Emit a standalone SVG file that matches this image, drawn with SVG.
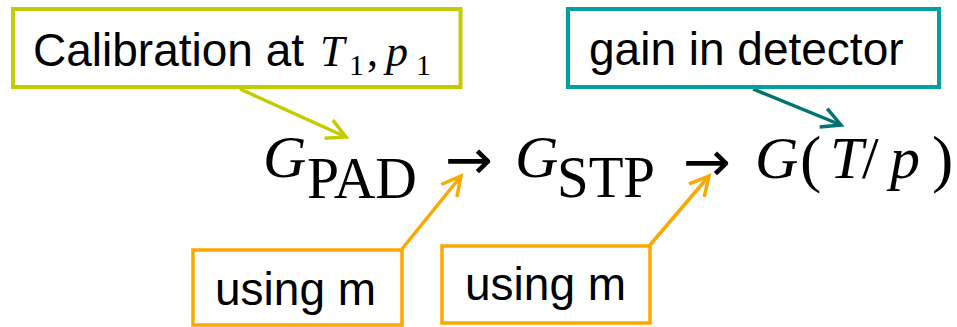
<svg xmlns="http://www.w3.org/2000/svg" width="957" height="327" viewBox="0 0 957 327">
<style>
.box{fill:#ffffff;stroke-width:4}
.ob{stroke-width:3.5}
.lbl{font-family:"Liberation Sans",Arial,sans-serif;font-size:46px;fill:#000}
.m{font-family:"Liberation Serif","DejaVu Serif",serif;fill:#000}
.mi{font-style:italic}
.ar{font-family:"DejaVu Sans",sans-serif;fill:#000}
.con{fill:none;stroke-width:3.5}
</style>
<defs>
<marker id="hLime" markerUnits="userSpaceOnUse" markerWidth="30" markerHeight="30" viewBox="-25 -15 30 30" refX="0" refY="0" orient="auto"><path d="M-19,-10 L0,0 L-19,10" fill="none" stroke="#c4cc00" stroke-width="3.5"/></marker>
<marker id="hTeal" markerUnits="userSpaceOnUse" markerWidth="30" markerHeight="30" viewBox="-25 -15 30 30" refX="0" refY="0" orient="auto"><path d="M-19,-10 L0,0 L-19,10" fill="none" stroke="#007372" stroke-width="3.5"/></marker>
<marker id="hOrange" markerUnits="userSpaceOnUse" markerWidth="30" markerHeight="30" viewBox="-25 -15 30 30" refX="0" refY="0" orient="auto"><path d="M-19,-10 L0,0 L-19,10" fill="none" stroke="#f9a900" stroke-width="3.5"/></marker>
</defs>
<rect width="957" height="327" fill="#ffffff"/>
<g id="connectors">
<line class="con" x1="240" y1="89" x2="346" y2="137" stroke="#c4cc00" marker-end="url(#hLime)"/>
<line class="con" x1="753" y1="89" x2="841" y2="125" stroke="#007372" marker-end="url(#hTeal)"/>
<line class="con" x1="402" y1="249" x2="461" y2="176" stroke="#f9a900" marker-end="url(#hOrange)"/>
<line class="con" x1="650" y1="245" x2="709" y2="176" stroke="#f9a900" marker-end="url(#hOrange)"/>
</g>
<g id="calibration">
<rect class="box" x="13" y="9" width="447.5" height="78" stroke="#c4cc00"/>
<text class="lbl" x="33" y="66">Calibration at </text>
<text class="m mi" x="320" y="66" font-size="44">T</text>
<text class="m" x="349" y="75" font-size="30">1</text>
<text class="m" x="367" y="66" font-size="44">,</text>
<text class="m mi" x="386" y="66" font-size="44">p</text>
<text class="m" x="416" y="75" font-size="30">1</text>
</g>
<g id="gain">
<rect class="box" x="568" y="9" width="371" height="78" stroke="#00a0a0"/>
<text class="lbl" x="589" y="65">gain in detector</text>
</g>
<g id="formula">
<text class="m mi" x="263" y="177" font-size="60">G</text>
<text class="m" x="307" y="198" font-size="60" textLength="110" lengthAdjust="spacingAndGlyphs">PAD</text>
<text class="ar" x="445" y="179" font-size="56" textLength="48" lengthAdjust="spacingAndGlyphs">→</text>
<text class="m mi" x="515" y="177" font-size="60">G</text>
<text class="m" x="557" y="197" font-size="60" textLength="98" lengthAdjust="spacingAndGlyphs">STP</text>
<text class="ar" x="683" y="181" font-size="56" textLength="48" lengthAdjust="spacingAndGlyphs">→</text>
<text class="m mi" x="755" y="178" font-size="60">G</text>
<text class="m" x="800" y="180" font-size="64">(</text>
<text class="m mi" x="830" y="178" font-size="60">T</text>
<text class="m" x="862" y="178" font-size="60">/</text>
<text class="m mi" x="890" y="178" font-size="60">p</text>
<text class="m" x="932" y="180" font-size="64">)</text>
</g>
<g id="using1">
<rect class="box ob" x="193" y="250" width="209" height="75" stroke="#f9a900"/>
<text class="lbl" x="215" y="305">using m</text>
</g>
<g id="using2">
<rect class="box ob" x="442" y="246" width="208" height="77" stroke="#f9a900"/>
<text class="lbl" x="465" y="300">using m</text>
</g>
</svg>
